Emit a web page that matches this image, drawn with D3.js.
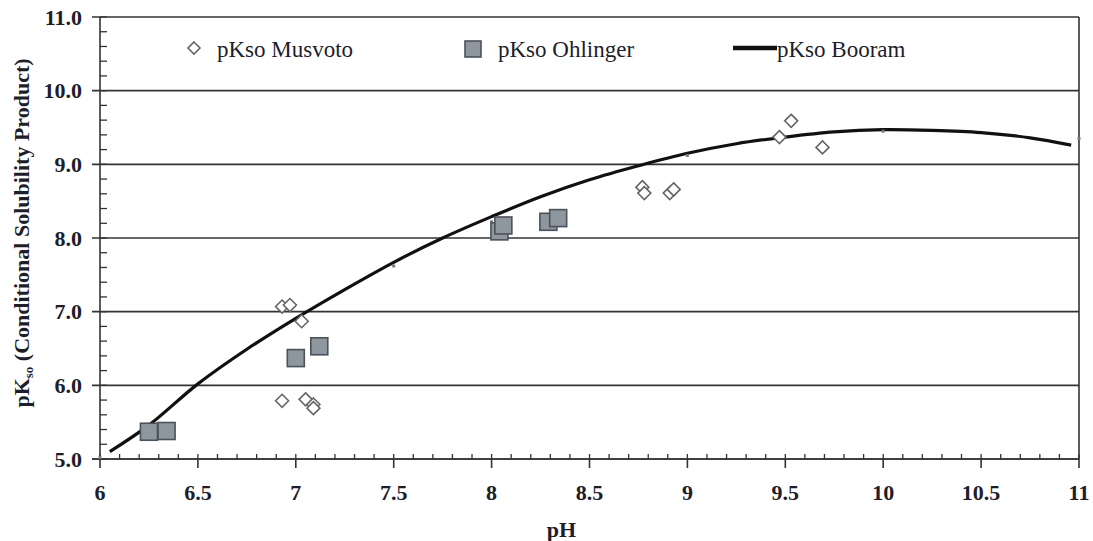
<!DOCTYPE html>
<html>
<head>
<meta charset="utf-8">
<script src="https://cdn.jsdelivr.net/npm/d3@7"></script>
<style>
  body { margin: 0; background: #fff; }
</style>
</head>
<body>
<svg id="chart" width="1093" height="541"></svg>
<script>
var musvotoPH   = [6.93, 6.97, 7.03, 6.93, 7.05, 7.09, 7.09, 8.77, 8.78, 8.91, 8.93, 9.47, 9.53, 9.69];
var musvotoPK   = [7.07, 7.09, 6.87, 5.79, 5.81, 5.74, 5.69, 8.69, 8.61, 8.61, 8.66, 9.37, 9.59, 9.23];
var ohlingerPH  = [6.25, 6.34, 7.00, 7.12, 8.04, 8.06, 8.29, 8.34];
var ohlingerPK  = [5.37, 5.38, 6.37, 6.53, 8.09, 8.17, 8.22, 8.27];
var booramPH    = [6.05, 6.25, 6.5, 6.75, 7.0, 7.25, 7.5, 7.75, 8.0, 8.25, 8.5, 8.75, 9.0, 9.25, 9.5, 9.75, 10.0, 10.25, 10.5, 10.75, 10.96];
var booramPK    = [5.10, 5.46, 6.02, 6.49, 6.91, 7.30, 7.67, 8.00, 8.29, 8.56, 8.79, 8.98, 9.15, 9.28, 9.37, 9.44, 9.47, 9.46, 9.43, 9.36, 9.26];
var booramDotPH = [6.0, 7.5, 8.0, 9.0, 10.0, 11.0];
var booramDotPK = [5.02, 7.62, 8.22, 9.12, 9.45, 9.35];

var xTicks = [6, 6.5, 7, 7.5, 8, 8.5, 9, 9.5, 10, 10.5, 11];
var xTickLabels = ["6", "6.5", "7", "7.5", "8", "8.5", "9", "9.5", "10", "10.5", "11"];
var yTicks = [5, 6, 7, 8, 9, 10, 11];
var yTickLabels = ["5.0", "6.0", "7.0", "8.0", "9.0", "10.0", "11.0"];
var legendNames = ["pKso Musvoto", "pKso Ohlinger", "pKso Booram"];

var plotLeft = 100, plotRight = 1079, plotTop = 17, plotBottom = 459;
var ink = "#1d1d2b";

var xScale = d3.scaleLinear().domain([6, 11]).range([plotLeft, plotRight]),
    yScale = d3.scaleLinear().domain([5, 11]).range([plotBottom, plotTop]);

var svg = d3.select("#chart")
    .style("font-family", "'Liberation Serif', 'Times New Roman', serif");

// gridlines at the major y values
svg.append("g")
  .selectAll("line")
    .data(yTicks)
  .enter().append("line")
    .attr("x1", plotLeft - 8).attr("x2", plotRight)
    .attr("y1", function(d) { return yScale(d); })
    .attr("y2", function(d) { return yScale(d); })
    .attr("stroke", "#333").attr("stroke-width", 1.6);

// right frame
svg.append("line")
    .attr("x1", plotRight).attr("x2", plotRight)
    .attr("y1", plotTop).attr("y2", plotBottom)
    .attr("stroke", "#333").attr("stroke-width", 1.6);

// y axis: minor ticks point inward, major ticks outward
var yAxis = svg.append("g").attr("transform", "translate(" + plotLeft + ",0)");
yAxis.append("line")
    .attr("y1", plotTop).attr("y2", plotBottom)
    .attr("stroke", "#333").attr("stroke-width", 1.6);
yAxis.selectAll(".minor")
    .data(d3.range(5, 11.001, 0.2))
  .enter().append("line")
    .attr("x1", 0).attr("x2", 7)
    .attr("y1", function(d) { return yScale(d); })
    .attr("y2", function(d) { return yScale(d); })
    .attr("stroke", "#333").attr("stroke-width", 1.3);
yAxis.selectAll(".lab")
    .data(yTicks)
  .enter().append("text")
    .attr("x", -18)
    .attr("y", function(d) { return yScale(d) + 7.5; })
    .attr("text-anchor", "end")
    .attr("font-size", 22).attr("font-weight", "bold")
    .attr("fill", ink)
    .text(function(d, i) { return yTickLabels[i]; });

// x axis
var xAxis = svg.append("g").attr("transform", "translate(0," + plotBottom + ")");
xAxis.append("line")
    .attr("x1", plotLeft - 8).attr("x2", plotRight)
    .attr("stroke", "#333").attr("stroke-width", 1.6);
xAxis.selectAll(".minor")
    .data(d3.range(6, 11.001, 0.1))
  .enter().append("line")
    .attr("x1", function(d) { return xScale(d); })
    .attr("x2", function(d) { return xScale(d); })
    .attr("y1", 0).attr("y2", -5)
    .attr("stroke", "#333").attr("stroke-width", 1.3);
xAxis.selectAll(".major")
    .data(xTicks)
  .enter().append("line")
    .attr("x1", function(d) { return xScale(d); })
    .attr("x2", function(d) { return xScale(d); })
    .attr("y1", 0).attr("y2", 9)
    .attr("stroke", "#333").attr("stroke-width", 1.6);
xAxis.selectAll(".lab")
    .data(xTicks)
  .enter().append("text")
    .attr("x", function(d) { return xScale(d); })
    .attr("y", 41)
    .attr("text-anchor", "middle")
    .attr("font-size", 22).attr("font-weight", "bold")
    .attr("fill", ink)
    .text(function(d, i) { return xTickLabels[i]; });

svg.append("text")
    .attr("x", xScale(8.5) - 28).attr("y", 537)
    .attr("text-anchor", "middle")
    .attr("font-size", 22).attr("font-weight", "bold")
    .attr("fill", ink)
    .text("pH");

var yTitle = svg.append("text")
    .attr("transform", "translate(29," + 233 + ") rotate(-90)")
    .attr("text-anchor", "middle")
    .attr("font-size", 22).attr("font-weight", "bold")
    .attr("fill", ink);
yTitle.append("tspan").text("pK");
yTitle.append("tspan").attr("font-size", 13).attr("dy", 4).text("so");
yTitle.append("tspan").attr("dy", -4).text(" (Conditional Solubility Product)");

// Booram curve
var line = d3.line()
    .x(function(d) { return xScale(d[0]); })
    .y(function(d) { return yScale(d[1]); })
    .curve(d3.curveCatmullRom);

svg.append("path")
    .datum(d3.zip(booramPH, booramPK))
    .attr("d", line)
    .attr("fill", "none")
    .attr("stroke", "#111").attr("stroke-width", 3.2);

svg.append("g")
  .selectAll("rect")
    .data(d3.zip(booramDotPH, booramDotPK))
  .enter().append("rect")
    .attr("x", function(d) { return xScale(d[0]) - 1.5; })
    .attr("y", function(d) { return yScale(d[1]) - 1.5; })
    .attr("width", 3).attr("height", 3)
    .attr("fill", "#778");

// Ohlinger squares
var sq = 17;
svg.append("g")
  .selectAll("rect")
    .data(d3.zip(ohlingerPH, ohlingerPK))
  .enter().append("rect")
    .attr("x", function(d) { return xScale(d[0]) - sq / 2; })
    .attr("y", function(d) { return yScale(d[1]) - sq / 2; })
    .attr("width", sq).attr("height", sq)
    .attr("fill", "#8e969f")
    .attr("stroke", "#4b5359").attr("stroke-width", 1.6);

// Musvoto diamonds
var diamond = "M0,-6.5L6.5,0L0,6.5L-6.5,0Z";
svg.append("g")
  .selectAll("path")
    .data(d3.zip(musvotoPH, musvotoPK))
  .enter().append("path")
    .attr("d", diamond)
    .attr("transform", function(d) { return "translate(" + xScale(d[0]) + "," + yScale(d[1]) + ")"; })
    .attr("fill", "#fff")
    .attr("stroke", "#666").attr("stroke-width", 1.6);

// legend
var legend = svg.append("g");
legend.append("path")
    .attr("d", "M0,-6L6,0L0,6L-6,0Z")
    .attr("transform", "translate(194,48)")
    .attr("fill", "#fff").attr("stroke", "#666").attr("stroke-width", 1.6);
legend.append("rect")
    .attr("x", 465).attr("y", 41).attr("width", 16).attr("height", 16)
    .attr("fill", "#8e969f").attr("stroke", "#4b5359").attr("stroke-width", 1.6);
legend.append("line")
    .attr("x1", 733).attr("x2", 777).attr("y1", 48).attr("y2", 48)
    .attr("stroke", "#111").attr("stroke-width", 4.5);
legend.selectAll("text")
    .data(legendNames)
  .enter().append("text")
    .attr("x", function(d, i) { return [217, 498, 777][i]; })
    .attr("y", 57)
    .attr("font-size", 23)
    .attr("fill", ink)
    .text(function(d) { return d; });
</script>
</body>
</html>
